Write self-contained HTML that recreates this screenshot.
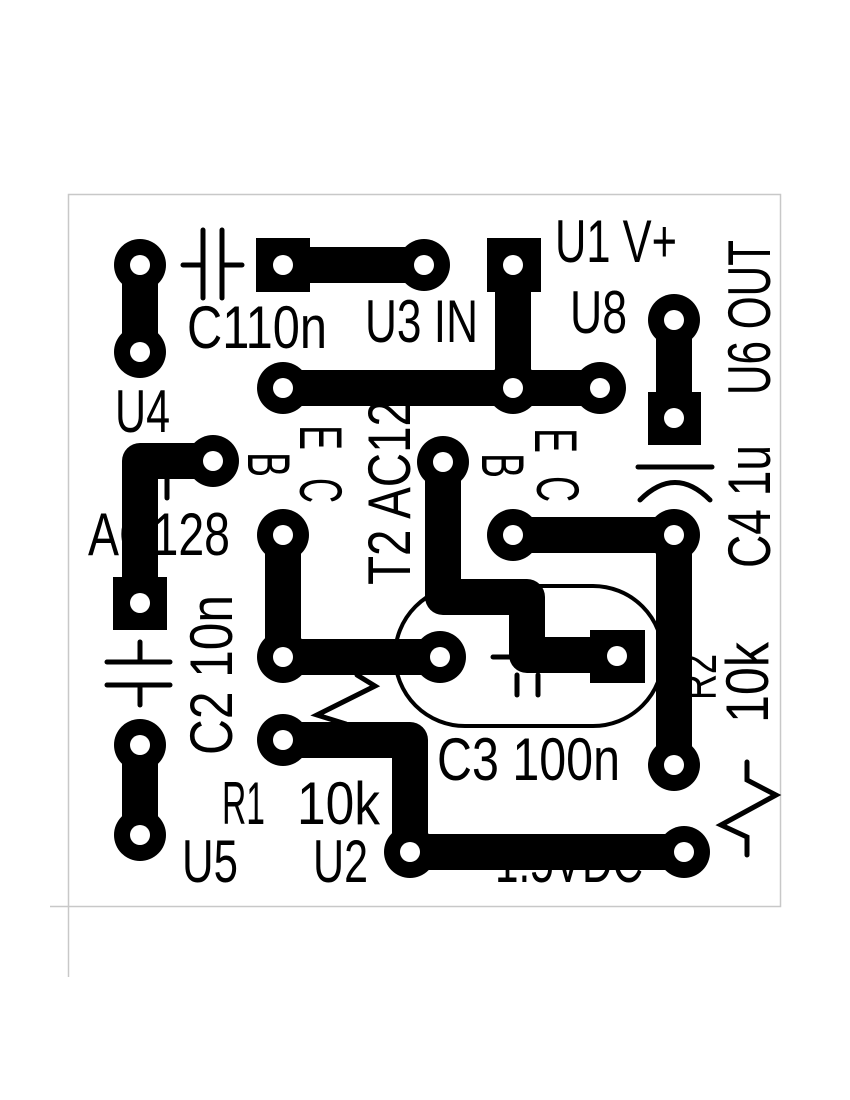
<!DOCTYPE html>
<html><head><style>
html,body{margin:0;padding:0;background:#fff;}
svg{display:block;}
text{font-family:"Liberation Sans",sans-serif;font-size:60px;fill:#000;}
</style></head><body>
<svg width="850" height="1100" viewBox="0 0 850 1100">
<!-- board outline -->
<rect x="68.5" y="194.5" width="712" height="712" fill="none" stroke="#c8c8c8" stroke-width="1.5"/>
<line x1="50" y1="906.5" x2="68" y2="906.5" stroke="#c8c8c8" stroke-width="1.5"/>
<line x1="68.5" y1="906" x2="68.5" y2="977" stroke="#c8c8c8" stroke-width="1.5"/>

<!-- partially hidden text (under traces) -->
<text x="88" y="555" textLength="142" lengthAdjust="spacingAndGlyphs">AC128</text>
<text x="495" y="882" textLength="148" lengthAdjust="spacingAndGlyphs">1.5VDC</text>
<text transform="translate(716,700) rotate(-90)" textLength="46" lengthAdjust="spacingAndGlyphs" style="font-size:52px">R2</text>

<!-- traces -->
<g stroke="#000" stroke-width="36" fill="none" stroke-linejoin="round" stroke-linecap="round">
  <path d="M140 265 L140 352"/>
  <path d="M283 265 L424 265"/>
  <path d="M513 265 L513 388"/>
  <path d="M283 388 L600 388"/>
  <path d="M674 320 L674 412"/>
  <path d="M213 461 L140 461 L140 603"/>
  <path d="M283 535 L283 657 L440 657"/>
  <path d="M443 462 L443 597 L527 597 L527 655 L617 655"/>
  <path d="M513 535 L674 535 L674 765"/>
  <path d="M283 740 L410 740 L410 852 L684 852"/>
  <path d="M140 745 L140 835"/>
</g>

<!-- square pads -->
<g fill="#000">
  <rect x="256" y="238" width="54" height="54"/>
  <rect x="487" y="238" width="54" height="54"/>
  <rect x="648" y="392" width="53" height="53"/>
  <rect x="113" y="577" width="54" height="53"/>
  <rect x="590" y="630" width="55" height="53"/>
</g>
<!-- round pads -->
<g fill="#000">
  <circle cx="140" cy="265" r="26"/><circle cx="140" cy="352" r="26"/>
  <circle cx="424" cy="265" r="26"/>
  <circle cx="283" cy="388" r="26"/><circle cx="513" cy="388" r="26"/><circle cx="600" cy="388" r="26"/>
  <circle cx="674" cy="320" r="26"/>
  <circle cx="213" cy="461" r="26"/>
  <circle cx="443" cy="462" r="26"/>
  <circle cx="283" cy="535" r="26"/>
  <circle cx="513" cy="535" r="26"/>
  <circle cx="674" cy="535" r="26"/>
  <circle cx="283" cy="657" r="26"/><circle cx="440" cy="657" r="26"/>
  <circle cx="674" cy="765" r="26"/>
  <circle cx="283" cy="740" r="26"/>
  <circle cx="410" cy="852" r="26"/><circle cx="684" cy="852" r="26"/>
  <circle cx="140" cy="745" r="26"/><circle cx="140" cy="835" r="26"/>
</g>
<!-- holes -->
<g fill="#fff">
  <circle cx="140" cy="265" r="10"/><circle cx="140" cy="352" r="10"/>
  <circle cx="283" cy="265" r="10"/><circle cx="424" cy="265" r="10"/>
  <circle cx="513" cy="265" r="10"/>
  <circle cx="283" cy="388" r="10"/><circle cx="513" cy="388" r="10"/><circle cx="600" cy="388" r="10"/>
  <circle cx="674" cy="320" r="10"/><circle cx="674" cy="418" r="10"/>
  <circle cx="213" cy="461" r="10"/>
  <circle cx="443" cy="462" r="10"/>
  <circle cx="140" cy="603" r="10"/>
  <circle cx="283" cy="535" r="10"/>
  <circle cx="513" cy="535" r="10"/>
  <circle cx="674" cy="535" r="10"/>
  <circle cx="283" cy="657" r="10"/><circle cx="440" cy="657" r="10"/>
  <circle cx="617" cy="656" r="10"/>
  <circle cx="674" cy="765" r="10"/>
  <circle cx="283" cy="740" r="10"/>
  <circle cx="410" cy="852" r="10"/><circle cx="684" cy="852" r="10"/>
  <circle cx="140" cy="745" r="10"/><circle cx="140" cy="835" r="10"/>
</g>

<!-- silkscreen symbols -->
<g stroke="#000" stroke-width="5" fill="none" stroke-linecap="round">
  <!-- C1 -->
  <line x1="203" y1="230" x2="203" y2="298"/><line x1="222" y1="230" x2="222" y2="298"/>
  <line x1="183" y1="265" x2="203" y2="265"/><line x1="222" y1="265" x2="242" y2="265"/>
  <!-- C2 -->
  <line x1="107" y1="662" x2="170" y2="662"/><line x1="107" y1="685" x2="170" y2="685"/>
  <line x1="140" y1="642" x2="140" y2="662"/><line x1="140" y1="685" x2="140" y2="705"/>
  <!-- C4 -->
  <line x1="638" y1="467" x2="712" y2="467"/>
  <path d="M640 500 Q675 465 710 500"/>
  <!-- T1 mark -->
  <line x1="167" y1="478" x2="167" y2="498"/>
  <!-- T2 outline -->
  <rect x="395" y="586" width="268" height="140" rx="70" ry="70" stroke-width="4"/>
  <line x1="493" y1="657" x2="512" y2="657"/>
  <line x1="517" y1="675" x2="517" y2="695"/><line x1="538" y1="675" x2="538" y2="695"/>
  <!-- R1 zigzag -->
  <polyline points="357,675 375,686 317,715 346,724" stroke-linecap="round" stroke-linejoin="miter"/>
  <!-- R2 zigzag -->
  <polyline points="747,762 747,780 776,795 721,825 747,837 747,855" stroke-linejoin="miter"/>
</g>

<!-- labels -->
<text x="187" y="348" textLength="140" lengthAdjust="spacingAndGlyphs">C110n</text>
<text x="365" y="342" textLength="113" lengthAdjust="spacingAndGlyphs">U3 IN</text>
<text x="555" y="262" textLength="122" lengthAdjust="spacingAndGlyphs">U1 V+</text>
<text x="570" y="333" textLength="57" lengthAdjust="spacingAndGlyphs">U8</text>
<text x="115" y="432" textLength="55" lengthAdjust="spacingAndGlyphs">U4</text>
<text x="437" y="780" textLength="183" lengthAdjust="spacingAndGlyphs">C3 100n</text>
<text x="222" y="824" textLength="43" lengthAdjust="spacingAndGlyphs">R1</text>
<text x="297" y="824" textLength="83" lengthAdjust="spacingAndGlyphs">10k</text>
<text x="182" y="882" textLength="56" lengthAdjust="spacingAndGlyphs">U5</text>
<text x="313" y="882" textLength="55" lengthAdjust="spacingAndGlyphs">U2</text>

<text transform="translate(770,395) rotate(-90)" textLength="155" lengthAdjust="spacingAndGlyphs">U6 OUT</text>
<text transform="translate(770,568) rotate(-90)" textLength="123" lengthAdjust="spacingAndGlyphs">C4 1u</text>
<text transform="translate(768,723) rotate(-90)" textLength="81" lengthAdjust="spacingAndGlyphs">10k</text>
<text transform="translate(232,755) rotate(-90)" textLength="160" lengthAdjust="spacingAndGlyphs">C2 10n</text>
<text transform="translate(410,585) rotate(-90)" textLength="185" lengthAdjust="spacingAndGlyphs">T2 AC12</text>

<text transform="translate(300,425) rotate(90)" textLength="25" lengthAdjust="spacingAndGlyphs">E</text>
<text transform="translate(248,452) rotate(90)" textLength="25" lengthAdjust="spacingAndGlyphs">B</text>
<text transform="translate(300,478) rotate(90)" textLength="25" lengthAdjust="spacingAndGlyphs">C</text>
<text transform="translate(535,428) rotate(90)" textLength="25" lengthAdjust="spacingAndGlyphs">E</text>
<text transform="translate(482,453) rotate(90)" textLength="25" lengthAdjust="spacingAndGlyphs">B</text>
<text transform="translate(537,476) rotate(90)" textLength="26" lengthAdjust="spacingAndGlyphs">C</text>
</svg>
</body></html>
